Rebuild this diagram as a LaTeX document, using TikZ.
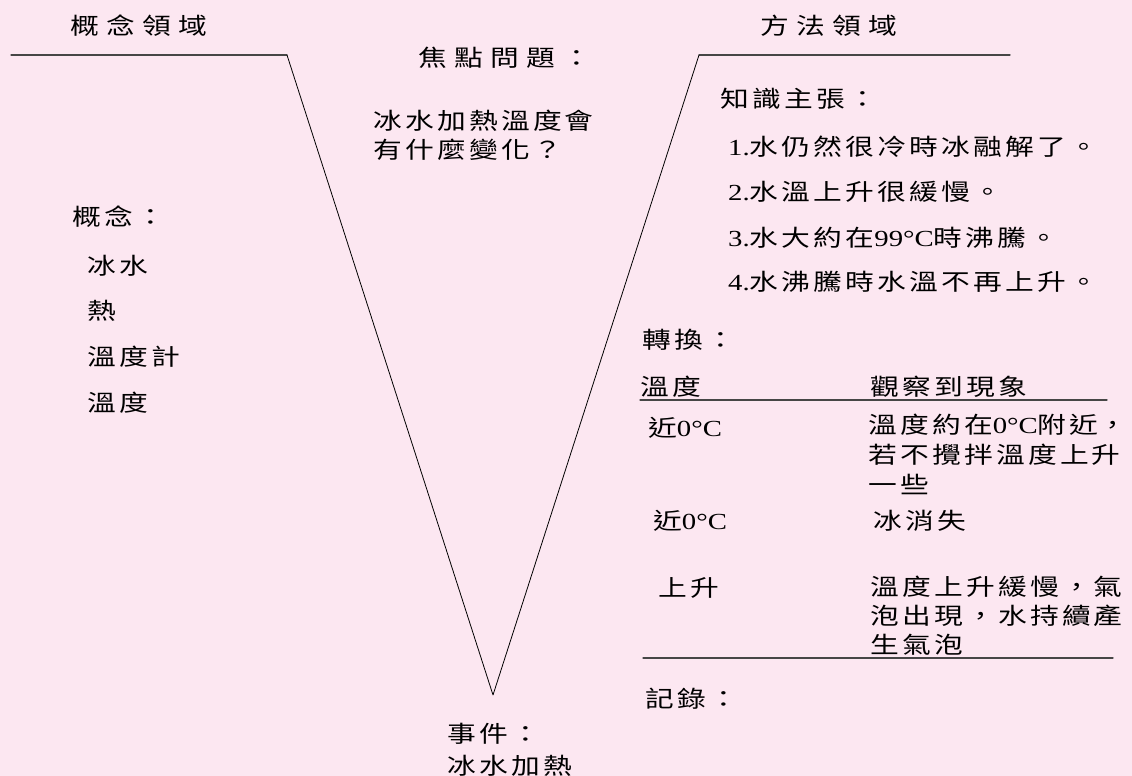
\documentclass[tikz,border=0pt]{standalone}
\usepackage{fontspec}
\setmainfont{Liberation Serif}[FakeStretch=1.25]
\newfontfamily\cjk[FakeStretch=1.25,LetterSpace=14]{Noto Sans CJK TC}
\newfontfamily\cjkwide[FakeStretch=1.25,LetterSpace=32]{Noto Sans CJK TC}
\newcommand\lat[1]{{\rmfamily#1}}
\definecolor{bgpink}{RGB}{252,231,241}
\definecolor{rulegray}{RGB}{70,70,70}
\tikzset{
  txt/.style={anchor=west, inner sep=0pt, font=\cjk\fontsize{23}{30}\selectfont},
  wtxt/.style={txt, font=\cjkwide\fontsize{23}{30}\selectfont},
  mtxt/.style={txt, anchor=north west, align=left},
  vline/.style={draw=black, line width=0.8pt},
  hline/.style={draw=rulegray, line width=1.3pt}
}
\begin{document}
\begin{tikzpicture}[x=1pt,y=-1pt,line join=round,line cap=round]
\fill[bgpink] (0,0) rectangle (1132,776);
\useasboundingbox (0,0) rectangle (1132,776);
% the V
\coordinate (lstart) at (11,55);
\coordinate (ltop) at (287,55);
\coordinate (apex) at (493,695);
\coordinate (rtop) at (699,55);
\coordinate (rend) at (1010,55);
\draw[hline] (lstart) -- (ltop);
\draw[hline] (rtop) -- (rend);
\draw[vline] (ltop) -- (apex) -- (rtop);

\node[wtxt] (concdom) at (70,26) {概念領域};
\node[wtxt] (methdom) at (760,26) {方法領域};
\node[wtxt] (focus) at (418,58) {焦點問題：};
\node[mtxt] (question) at (373,109.5) {冰水加熱溫度會\\[-1pt]有什麼變化？};

% concepts
\node[txt] (concepts) at (72,217) {概念：};
\foreach \y/\t [count=\i] in {266/冰水,311/熱,357/溫度計,403/溫度}{\node[txt] (c\i) at (87,\y) {\t};}

% knowledge claims
\node[txt] (claims) at (720,99) {知識主張：};
\foreach \y/\n/\t in {147/1/水仍然很冷時冰融解了。,192/2/水溫上升很緩慢。,238/3/水大約在\lat{99°C}時沸騰。,282/4/水沸騰時水溫不再上升。}{\node[txt] (k\n) at (728,\y) {\lat{\n.}\t};}

% transformations
\node[txt] (trans) at (642,340) {轉換：};
\node[txt] (thead) at (640,387) {溫度};
\node[txt] (ohead) at (870,387) {觀察到現象};
\coordinate (r1a) at (640,400);
\coordinate (r1b) at (1107,400);
\draw[hline] (r1a) -- (r1b);
\node[txt] (t1) at (648,428) {近\lat{0°C}};
\node[mtxt] (o1) at (868,413.5) {溫度約在\lat{0°C}附近\rlap{，}\\若不攪拌溫度上升\\一些};
\node[txt] (t2) at (653,521) {近\lat{0°C}};
\node[txt] (o2) at (873,521) {冰消失};
\node[txt] (t3) at (658,588) {上升};
\node[mtxt] (o3) at (870,575.5) {溫度上升緩慢，氣\\[-1pt]泡出現，水持續產\\[-1pt]生氣泡};
\coordinate (r2a) at (643,658);
\coordinate (r2b) at (1113,658);
\draw[hline] (r2a) -- (r2b);
\node[txt] (records) at (645,699) {記錄：};

% event
\node[mtxt] (event) at (447,722.5) {事件：\\[2pt]冰水加熱};
\end{tikzpicture}
\end{document}
